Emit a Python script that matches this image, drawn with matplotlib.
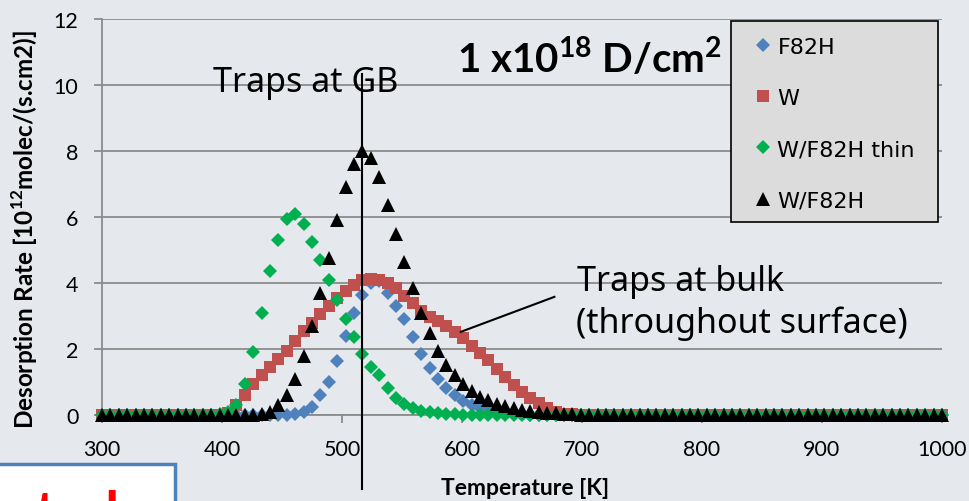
import matplotlib
matplotlib.use("Agg")
import matplotlib.pyplot as plt
from matplotlib.patches import Rectangle

plt.rcParams["mathtext.fontset"] = "custom"
plt.rcParams["mathtext.rm"] = "Lato"
plt.rcParams["mathtext.bf"] = "Lato:bold"

# temperature grid of the TDS run (one point every 7 K)
temps = list(range(300, 1001, 7))

# desorption rate [1e12 molec/(s.cm2)]
f82h = [0.0] * 23 + [0.02, 0.08, 0.25, 0.6, 1.0, 1.65, 2.4, 3.1, 3.65, 4.0,
                     4.05, 3.7, 3.3, 2.9, 2.35, 1.85, 1.42, 1.1, 0.83, 0.6,
                     0.43, 0.3, 0.21, 0.14, 0.09, 0.06, 0.04, 0.02, 0.01] + [0.0] * 49
w = [0.0] * 15 + [0.05, 0.3, 0.6, 0.95, 1.2, 1.45, 1.7, 1.95, 2.25, 2.55,
                  2.8, 3.05, 3.3, 3.55, 3.75, 3.95, 4.08, 4.12, 4.1, 4.0,
                  3.85, 3.62, 3.38, 3.15, 2.98, 2.84, 2.69, 2.52, 2.33, 2.1,
                  1.88, 1.66, 1.4, 1.16, 0.92, 0.7, 0.52, 0.36, 0.2, 0.09,
                  0.04, 0.02] + [0.0] * 44
w_f82h_thin = [0.0] * 14 + [0.02, 0.08, 0.3, 0.95, 1.9, 3.1, 4.35, 5.3, 5.95, 6.1,
                            5.8, 5.25, 4.7, 4.1, 3.5, 2.9, 2.35, 1.85, 1.45, 1.2,
                            0.82, 0.52, 0.33, 0.2, 0.12, 0.08, 0.05, 0.03, 0.02,
                            0.01] + [0.0] * 57
w_f82h = [0.0] * 19 + [0.02, 0.1, 0.3, 0.6, 1.1, 1.8, 2.7, 3.7, 4.75, 5.9,
                       6.9, 7.6, 8.0, 7.8, 7.2, 6.35, 5.5, 4.65, 3.85, 3.1,
                       2.5, 1.95, 1.52, 1.2, 0.93, 0.72, 0.56, 0.44, 0.34, 0.27,
                       0.21, 0.16, 0.12, 0.09, 0.07, 0.05, 0.03, 0.02,
                       0.01] + [0.0] * 43

gb_temp = 517
bulk_line_t = [599, 677]
bulk_line_y = [2.52, 3.58]

bg = "#e5e8ec"
grid_col = "#8c8c8c"
W, H = 969, 502

fig = plt.figure(figsize=(9.69, 5.02), dpi=100, facecolor=bg)
ax = fig.add_axes([102 / W, 86 / H, 840 / W, 396 / H])
ax.set_facecolor("none")

series = [
    (f82h, "F82H", "D", "#4f81bd", 6.8),
    (w, "W", "s", "#c0504d", 8),
    (w_f82h_thin, "W/F82H thin", "D", "#00b050", 6.8),
    (w_f82h, "W/F82H", "^", "black", 9.5),
]
for ys, name, mk, col, ms in series:
    ax.plot(temps, ys, linestyle="none", marker=mk, color=col, markersize=ms,
            markeredgewidth=0, label=name, clip_on=False, zorder=3)

ax.set_xlim(300, 1000)
ax.set_ylim(0, 12)
ax.set_xticks(range(300, 1001, 100))
ax.set_yticks(range(0, 13, 2))
ax.yaxis.grid(True, color=grid_col, linewidth=1.3)
ax.set_axisbelow(True)
for s in ["top", "right"]:
    ax.spines[s].set_visible(False)
for s in ["left", "bottom"]:
    ax.spines[s].set_color(grid_col)
    ax.spines[s].set_linewidth(1.3)
ax.tick_params(axis="both", direction="out", length=6, width=1.3, color=grid_col,
               labelsize=15.5, pad=11)
for lab in ax.get_xticklabels() + ax.get_yticklabels():
    lab.set_family("Lato")

ax.set_ylabel(r"Desorption Rate [10$^{\mathbf{12}}$molec/(s.cm2)]",
              fontweight="bold", fontsize=17.5, family="Lato")
ax.yaxis.set_label_coords(-0.074, 0.47)
ax.set_xlabel("Temperature [K]", fontweight="bold", fontsize=16.5, family="Lato")
ax.xaxis.set_label_coords(0.5036, -0.157)

# annotations
ax.plot([gb_temp, gb_temp], [10.33, -2.24], color="black", linewidth=1.5,
        clip_on=False, zorder=4)
ax.plot(bulk_line_t, bulk_line_y, color="black", linewidth=1.5, zorder=4)
fig.text(213 / W, 1 - 92 / H, "Traps at GB", family="Noto Sans",
         fontsize=24.5, va="baseline")
fig.text(577 / W, 1 - 291 / H, "Traps at bulk", family="Noto Sans",
         fontsize=24.5, va="baseline")
fig.text(576 / W, 1 - 333 / H, "(throughout surface)", family="Noto Sans",
         fontsize=24.5, va="baseline")
fig.text(457 / W, 1 - 73 / H, r"1 x10$^{\mathbf{18}}$ D/cm$^{\mathbf{2}}$",
         family="Lato", fontweight="bold", fontsize=29, va="baseline")

# legend box drawn at its place, entries laid over it
ax.add_patch(Rectangle((731 / W, 1 - 223 / H), 207 / W, 201 / H,
                       transform=fig.transFigure, facecolor="#dcdcdc",
                       edgecolor="black", linewidth=1.2, zorder=5, clip_on=False))
leg = ax.legend(loc="upper left", bbox_to_anchor=(753 / W, 1 - 38 / H),
                bbox_transform=fig.transFigure, prop={"family": "DejaVu Sans", "size": 16},
                frameon=False, borderpad=0, labelspacing=1.4, handlelength=0.9,
                handletextpad=0.2, borderaxespad=0, markerscale=1.1, numpoints=1)
leg.set_zorder(6)

# cropped caption box at the bottom left of the slide
fig.add_artist(Rectangle((-0.01, -0.2), 175 / W + 0.01, 0.2 + 37 / H,
                         transform=fig.transFigure, facecolor="white",
                         edgecolor="#4f81bd", linewidth=2.5))
fig.text(12 / W, -0.058, "study", color="red", family="Lato", fontweight="bold",
         fontsize=40, va="baseline")

fig.savefig("out.png", dpi=100, facecolor=bg)
